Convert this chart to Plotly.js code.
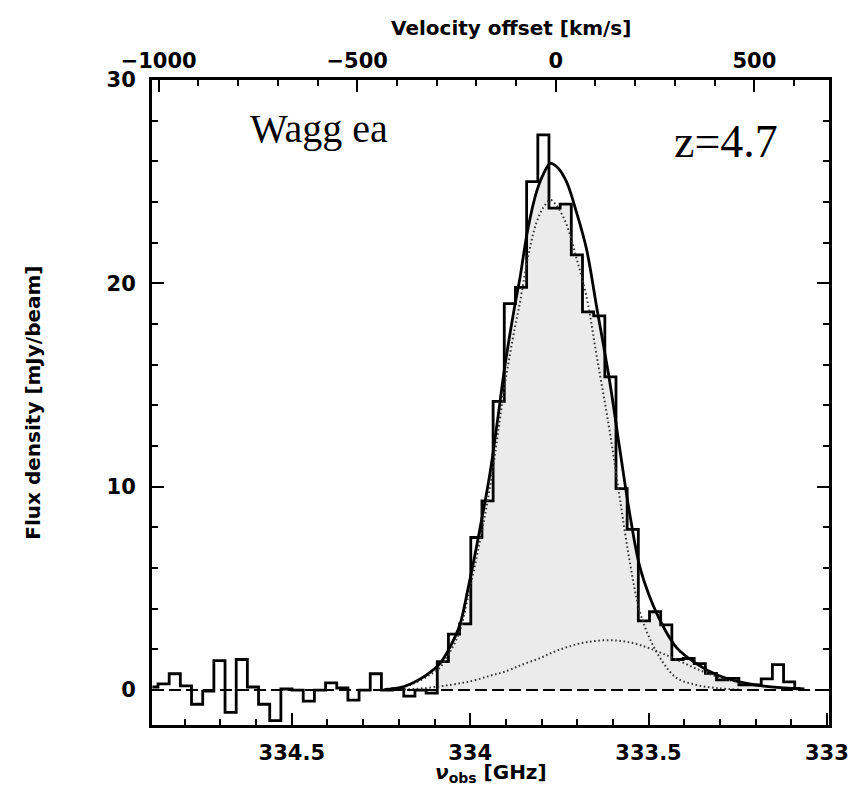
<!DOCTYPE html>
<html><head><meta charset="utf-8">
<script src="https://cdn.plot.ly/plotly-3.0.1.min.js"></script>
<style>html,body{margin:0;padding:0;background:#fff;} #chart{width:854px;height:789px;}</style>
</head><body><div id="chart"></div>
<script>
// Channel centre frequencies [GHz] (left to right on the plot)
const freqGHz = [334.8908, 334.8595, 334.8282, 334.7969, 334.7655, 334.7342, 334.7029, 334.6716, 334.6403, 334.6090,
  334.5776, 334.5463, 334.5150, 334.4837, 334.4524, 334.4211, 334.3897, 334.3584, 334.3271, 334.2958,
  334.2645, 334.2332, 334.2018, 334.1705, 334.1392, 334.1079, 334.0766, 334.0453, 334.0139, 333.9826,
  333.9513, 333.9200, 333.8887, 333.8574, 333.8260, 333.7947, 333.7634, 333.7321, 333.7008, 333.6694,
  333.6381, 333.6068, 333.5755, 333.5442, 333.5129, 333.4815, 333.4502, 333.4189, 333.3876, 333.3563,
  333.3250, 333.2936, 333.2623, 333.2310, 333.1997, 333.1684, 333.1371, 333.1057, 333.0744];
// Flux density per channel [mJy/beam]
const fluxDensity = [0.15, 0.3, 0.8, 0.2, -0.7, -0.05, 1.45, -1.1, 1.5, 0.15,
  -0.7, -1.5, 0.05, 0.0, -0.55, 0.0, 0.35, 0.1, -0.5, 0.0,
  0.8, 0.0, 0.05, -0.3, 0.0, -0.15, 1.4, 2.75, 3.25, 7.5,
  9.3, 14.2, 19.0, 19.8, 25.0, 27.3, 23.7, 23.9, 21.4, 18.6,
  18.4, 15.4, 9.9, 7.9, 3.4, 3.85, 3.2, 1.5, 1.55, 1.3,
  0.82, 0.5, 0.57, 0.25, 0.25, 0.55, 1.25, 0.4, 0.08];

// Fit curves, read at sample frequencies [GHz]
const fitFreqGHz = [334.240, 334.197, 334.161, 334.122, 334.085, 334.057, 334.029, 334.007, 333.973, 333.945,
  333.923, 333.903, 333.875, 333.861, 333.839, 333.814, 333.794, 333.775, 333.755, 333.730,
  333.702, 333.674, 333.646, 333.609, 333.581, 333.553, 333.525, 333.497, 333.461, 333.422,
  333.366, 333.307, 333.245, 333.181, 333.119, 333.063];
const fitTotal = [0.03, 0.12, 0.35, 0.75, 1.3, 2.1, 3.2, 4.9, 7.9, 10.6,
  13.3, 15.9, 18.9, 20.2, 22.6, 24.5, 25.4, 25.9, 25.7, 25.0,
  23.5, 21.7, 18.9, 15.2, 11.9, 8.7, 6.1, 4.6, 3.2, 2.1,
  1.3, 0.74, 0.4, 0.2, 0.1, 0.05];
const fitNarrow = [0.03, 0.10, 0.30, 0.65, 1.1, 1.85, 2.9, 4.5, 7.3, 9.9,
  12.5, 15.0, 17.8, 19.0, 21.2, 23.0, 23.75, 24.1, 23.75, 22.9,
  21.25, 19.35, 16.5, 12.75, 9.5, 6.35, 3.9, 2.55, 1.4, 0.6,
  0.25, 0.09, 0.02, null, null, null];
const fitBroad = [null, 0.02, 0.05, 0.1, 0.18, 0.25, 0.33, 0.4, 0.55, 0.7,
  0.8, 0.9, 1.1, 1.2, 1.35, 1.5, 1.65, 1.8, 1.95, 2.1,
  2.25, 2.35, 2.42, 2.45, 2.42, 2.35, 2.22, 2.05, 1.8, 1.5,
  1.05, 0.65, 0.38, 0.2, 0.1, 0.05];

const restFreqGHz = 333.76;        // zero velocity
const freqRange = [334.892, 332.994];
const fluxRange = [-1.72, 30];
const SPEED_C = 299792.458;
const toVel = f => SPEED_C * (restFreqGHz - f) / restFreqGHz;
const velRange = [toVel(freqRange[0]), toVel(freqRange[1])];

// white mask above histogram (grey shows min(curve, histogram))
const maskX = [freqGHz[0]].concat(freqGHz, [freqGHz[freqGHz.length - 1]]);
const maskY = [fluxRange[1]].concat(fluxDensity, [fluxRange[1]]);

const traces = [
  {x: fitFreqGHz, y: fitTotal, mode: 'lines', line: {width: 0, shape: 'spline'}, fill: 'tozeroy', fillcolor: '#ebebeb', hoverinfo: 'skip'},
  {x: maskX, y: maskY, mode: 'lines', line: {width: 0, shape: 'hvh'}, fill: 'toself', fillcolor: '#ffffff', hoverinfo: 'skip'},
  {x: freqGHz, y: fluxDensity, mode: 'lines', line: {color: '#000', width: 2.8, shape: 'hvh'}},
  {x: fitFreqGHz, y: fitNarrow, mode: 'lines', line: {color: '#3a3a3a', width: 2, dash: '1.6px,2.6px', shape: 'spline'}},
  {x: fitFreqGHz, y: fitBroad, mode: 'lines', line: {color: '#3a3a3a', width: 2, dash: '1.6px,2.6px', shape: 'spline'}},
  {x: fitFreqGHz, y: fitTotal, mode: 'lines', line: {color: '#000', width: 2.8, shape: 'spline'}},
  {x: velRange, y: [0, 0], xaxis: 'x2', mode: 'none', hoverinfo: 'skip'}
];

const tickFont = {family: 'DejaVu Sans', size: 21, weight: 'bold', color: '#000'};
const titleFont = {family: 'DejaVu Sans', size: 20, weight: 'bold', color: '#000'};
const minorBase = {ticks: 'inside', ticklen: 6, tickwidth: 2, tickcolor: '#000', showgrid: false};

const layout = {
  width: 854, height: 789,
  margin: {l: 152, r: 25, t: 80, b: 64, pad: 0},
  paper_bgcolor: '#fff', plot_bgcolor: '#fff',
  showlegend: false,
  font: {family: 'DejaVu Sans', color: '#000'},
  xaxis: {range: freqRange, tick0: 333, dtick: 0.5, ticks: 'inside', ticklen: 12, tickwidth: 2, tickcolor: '#000',
    showline: true, linewidth: 3, linecolor: '#000', mirror: true, showgrid: false, zeroline: false,
    tickfont: tickFont, ticklabelstandoff: 7,
    minor: Object.assign({dtick: 0.1, tick0: 333}, minorBase)},
  xaxis2: {overlaying: 'x', side: 'top', anchor: 'y', range: velRange, tick0: 0, dtick: 500,
    ticks: 'inside', ticklen: 12, tickwidth: 2, tickcolor: '#000', showline: false, showgrid: false, zeroline: false,
    tickfont: tickFont, ticklabelstandoff: 7,
    minor: Object.assign({dtick: 100, tick0: 0}, minorBase)},
  yaxis: {range: fluxRange, tick0: 0, dtick: 10, ticks: 'inside', ticklen: 12, tickwidth: 2, tickcolor: '#000',
    showline: true, linewidth: 3, linecolor: '#000', mirror: 'ticks', showgrid: false, zeroline: false,
    tickfont: tickFont, ticklabelstandoff: 9,
    minor: Object.assign({dtick: 2, tick0: 0}, minorBase)},
  shapes: [
    {type: 'line', xref: 'paper', yref: 'y', x0: 0, x1: 1, y0: 0, y1: 0, layer: 'above',
     line: {color: '#000', width: 2, dash: '12px,5px'}}
  ],
  annotations: [
    {text: 'Velocity offset [km/s]', xref: 'paper', yref: 'paper', x: 0.53, y: 1.08, xanchor: 'center', yanchor: 'middle', showarrow: false, font: titleFont},
    {text: '<i>ν</i><sub>obs</sub> [GHz]', xref: 'paper', yref: 'paper', x: 0.5, y: -0.075, xanchor: 'center', yanchor: 'middle', showarrow: false, font: titleFont},
    {text: 'Flux density [mJy/beam]', xref: 'paper', yref: 'paper', x: -0.177, y: 0.5, xanchor: 'center', yanchor: 'middle', textangle: -90, showarrow: false, font: titleFont},
    {text: 'Wagg ea', xref: 'paper', yref: 'paper', x: 0.142, y: 0.925, xanchor: 'left', yanchor: 'middle', showarrow: false, font: {family: 'Liberation Serif', size: 40, color: '#000'}},
    {text: 'z=4.7', xref: 'paper', yref: 'paper', x: 0.768, y: 0.905, xanchor: 'left', yanchor: 'middle', showarrow: false, font: {family: 'Liberation Serif', size: 46, color: '#000'}}
  ]
};

Plotly.newPlot('chart', traces, layout, {displayModeBar: false, staticPlot: true});
</script>
</body></html>
